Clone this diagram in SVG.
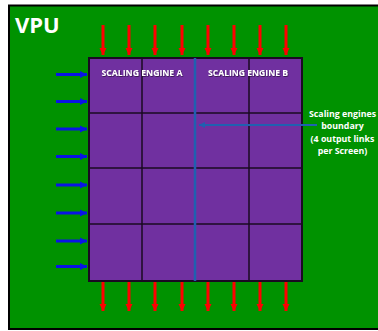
<svg xmlns="http://www.w3.org/2000/svg" width="378" height="331" viewBox="0 0 378 331">
  <defs>
    <marker id="redHead" viewBox="0 0 10 10" refX="10" refY="5" markerWidth="7.5" markerHeight="7.5" markerUnits="userSpaceOnUse" orient="auto">
      <path d="M0,0 L10,5 L0,10 Z" fill="#ff0000"/>
    </marker>
    <marker id="blueHead" viewBox="0 0 10 10" refX="10" refY="5" markerWidth="7.5" markerHeight="7.5" markerUnits="userSpaceOnUse" orient="auto">
      <path d="M0,0 L10,5 L0,10 Z" fill="#0a14e6"/>
    </marker>
    <marker id="bndHead" viewBox="0 0 10 10" refX="10" refY="5" markerWidth="6" markerHeight="6" markerUnits="userSpaceOnUse" orient="auto">
      <path d="M0,0 L10,5 L0,10 Z" fill="#2060b0"/>
    </marker>
    <filter id="shadow" x="-10%" y="-50%" width="120%" height="200%">
      <feDropShadow dx="0.6" dy="0.8" stdDeviation="0.6" flood-color="#000" flood-opacity="0.6"/>
    </filter>
  </defs>
  <style>
    .red { stroke: #ff0000; stroke-width: 3; marker-end: url(#redHead); }
    .blue { stroke: #0a14e6; stroke-width: 3; marker-end: url(#blueHead); }
    .hdr { font-family: "Open Sans", "Liberation Sans", sans-serif; font-weight: bold; font-size: 8.4px; fill: #ffffff; text-anchor: middle; }
    .lbl { font-family: "Open Sans", "Liberation Sans", sans-serif; font-weight: bold; font-size: 8.8px; fill: #ffffff; text-anchor: middle; }
  </style>

  <g id="vpu">
    <rect x="9" y="5.5" width="375" height="323.5" fill="#009200" stroke="#000" stroke-width="2"/>
    <text x="15" y="33" font-family="Open Sans, Liberation Sans, sans-serif" font-weight="bold" font-size="22" fill="#ffffff">VPU</text>
  </g>

  <g id="grid">
    <rect x="89" y="58" width="213" height="223" fill="#7030a0" stroke="#1a0a22" stroke-width="2"/>
    <g stroke="#1a0a22" stroke-width="1.5">
      <line x1="142" y1="58" x2="142" y2="281"/>
      <line x1="249" y1="58" x2="249" y2="281"/>
      <line x1="89" y1="113" x2="302" y2="113"/>
      <line x1="89" y1="168" x2="302" y2="168"/>
      <line x1="89" y1="224" x2="302" y2="224"/>
    </g>
    <rect x="89" y="58" width="213" height="223" fill="none" stroke="#1a0a22" stroke-width="2"/>
    <line x1="195" y1="58" x2="195" y2="281" stroke="#2060b0" stroke-width="2.5"/>
  </g>

  <g id="engineA">
    <text class="hdr" x="142" y="75.5" textLength="81" lengthAdjust="spacingAndGlyphs" filter="url(#shadow)">SCALING ENGINE A</text>
  </g>
  <g id="engineB">
    <text class="hdr" x="248" y="75.5" textLength="80" lengthAdjust="spacingAndGlyphs" filter="url(#shadow)">SCALING ENGINE B</text>
  </g>

  <g id="boundaryLabel">
    <text class="lbl" x="342.5" y="117">Scaling engines</text>
    <text class="lbl" x="342.5" y="129">boundary</text>
    <text class="lbl" x="342.5" y="141.5">(4 output links</text>
    <text class="lbl" x="342.5" y="154">per Screen)</text>
  </g>

  <g id="connectors">
    <line x1="317" y1="125" x2="199" y2="125" stroke="#2060b0" stroke-width="2" marker-end="url(#bndHead)"/>
    <g id="inputsTop">
      <line class="red" x1="103" y1="25" x2="103" y2="55"/>
      <line class="red" x1="129" y1="25" x2="129" y2="55"/>
      <line class="red" x1="155" y1="25" x2="155" y2="55"/>
      <line class="red" x1="182" y1="25" x2="182" y2="55"/>
      <line class="red" x1="208" y1="25" x2="208" y2="55"/>
      <line class="red" x1="234" y1="25" x2="234" y2="55"/>
      <line class="red" x1="260" y1="25" x2="260" y2="55"/>
      <line class="red" x1="286" y1="25" x2="286" y2="55"/>
    </g>
    <g id="outputsBottom">
      <line class="red" x1="103" y1="282" x2="103" y2="311"/>
      <line class="red" x1="129" y1="282" x2="129" y2="311"/>
      <line class="red" x1="155" y1="282" x2="155" y2="311"/>
      <line class="red" x1="182" y1="282" x2="182" y2="311"/>
      <line class="red" x1="208" y1="282" x2="208" y2="311"/>
      <line class="red" x1="234" y1="282" x2="234" y2="311"/>
      <line class="red" x1="260" y1="282" x2="260" y2="311"/>
      <line class="red" x1="286" y1="282" x2="286" y2="311"/>
    </g>
    <g id="inputsLeft">
      <line class="blue" x1="56" y1="74.5" x2="87" y2="74.5"/>
      <line class="blue" x1="56" y1="101.5" x2="87" y2="101.5"/>
      <line class="blue" x1="56" y1="129" x2="87" y2="129"/>
      <line class="blue" x1="56" y1="156.5" x2="87" y2="156.5"/>
      <line class="blue" x1="56" y1="185" x2="87" y2="185"/>
      <line class="blue" x1="56" y1="213" x2="87" y2="213"/>
      <line class="blue" x1="56" y1="241" x2="87" y2="241"/>
      <line class="blue" x1="56" y1="266.5" x2="87" y2="266.5"/>
    </g>
  </g>
</svg>
